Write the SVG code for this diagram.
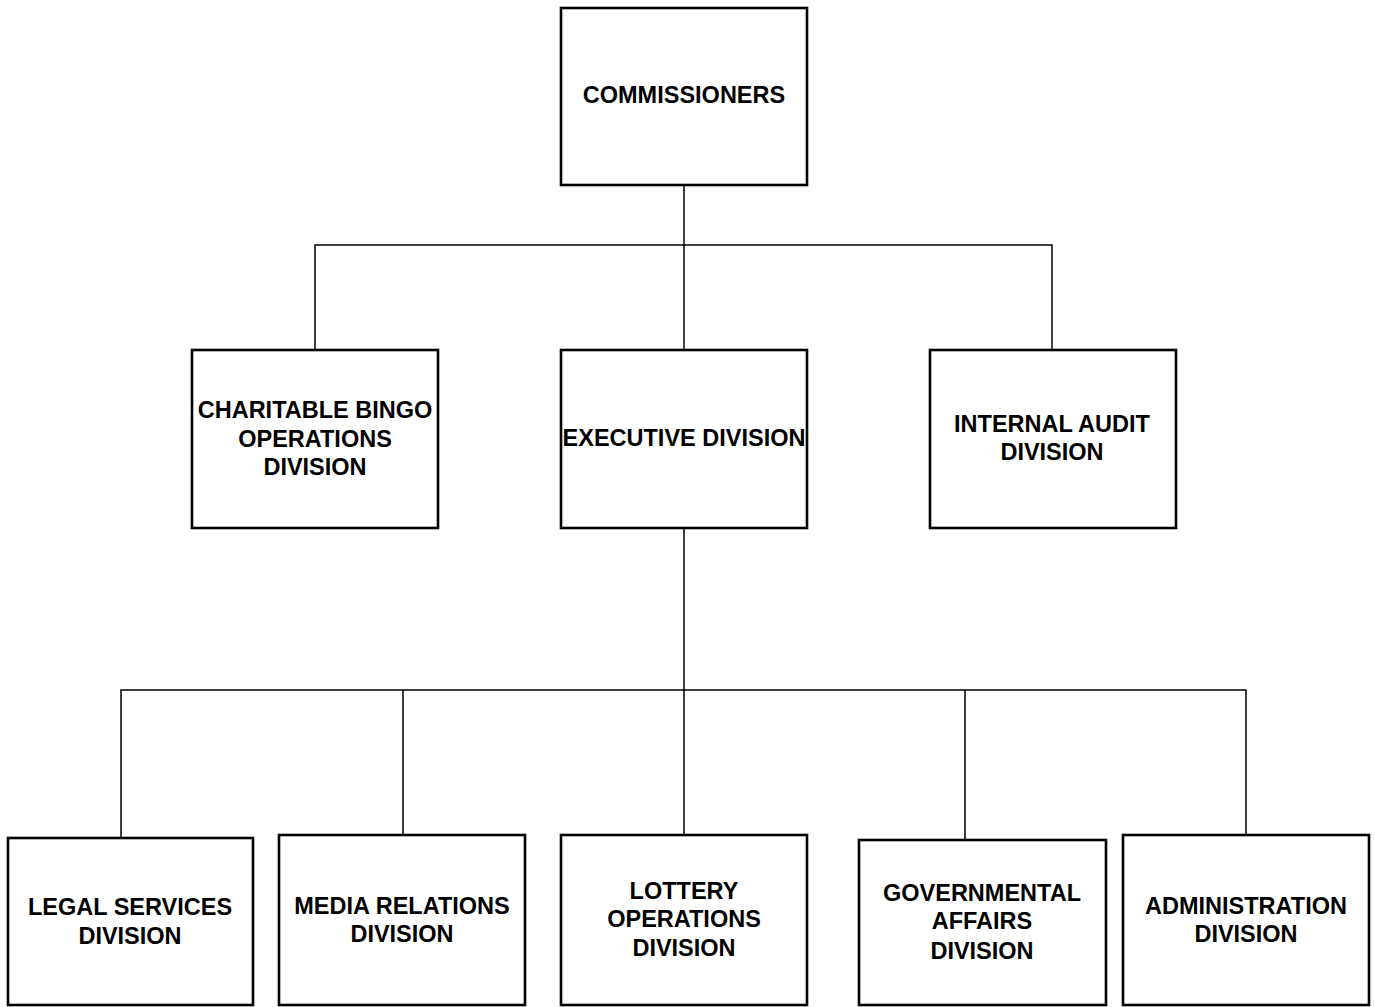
<svg xmlns="http://www.w3.org/2000/svg" width="1375" height="1007" viewBox="0 0 1375 1007">
<style>
.box{fill:#fff;stroke:#000;stroke-width:2.6}
.lbl{font-family:"Liberation Sans",Arial,sans-serif;font-weight:bold;font-size:23.5px;fill:#000;text-anchor:middle}
.con{fill:none;stroke:#000;stroke-width:1.5}
</style>
<rect width="1375" height="1007" fill="#fff"/>
<g id="connectors">
<path class="con" d="M684 185V350M315 350V245H1052V350"/>
<path class="con" d="M684 528V835M121 838V690H1246V835M403 835V690M965 840V690"/>
</g>
<g id="commissioners"><rect class="box" x="561" y="8" width="246" height="177"/><text class="lbl" x="684" y="103">COMMISSIONERS</text></g>
<g id="charitable"><rect class="box" x="192" y="350" width="246" height="178"/><text class="lbl" x="315" y="418">CHARITABLE BINGO</text><text class="lbl" x="315" y="446.5">OPERATIONS</text><text class="lbl" x="315" y="475">DIVISION</text></g>
<g id="executive"><rect class="box" x="561" y="350" width="246" height="178"/><text class="lbl" x="684" y="446">EXECUTIVE DIVISION</text></g>
<g id="internal-audit"><rect class="box" x="930" y="350" width="246" height="178"/><text class="lbl" x="1052" y="432">INTERNAL AUDIT</text><text class="lbl" x="1052" y="460">DIVISION</text></g>
<g id="legal"><rect class="box" x="8" y="838" width="245" height="167"/><text class="lbl" x="130" y="915">LEGAL SERVICES</text><text class="lbl" x="130" y="944">DIVISION</text></g>
<g id="media"><rect class="box" x="279" y="835" width="246" height="170"/><text class="lbl" x="402" y="914">MEDIA RELATIONS</text><text class="lbl" x="402" y="942">DIVISION</text></g>
<g id="lottery"><rect class="box" x="561" y="835" width="246" height="170"/><text class="lbl" x="684" y="899">LOTTERY</text><text class="lbl" x="684" y="927">OPERATIONS</text><text class="lbl" x="684" y="956">DIVISION</text></g>
<g id="governmental"><rect class="box" x="859" y="840" width="247" height="165"/><text class="lbl" x="982" y="901">GOVERNMENTAL</text><text class="lbl" x="982" y="929">AFFAIRS</text><text class="lbl" x="982" y="959">DIVISION</text></g>
<g id="administration"><rect class="box" x="1123" y="835" width="246" height="170"/><text class="lbl" x="1246" y="914">ADMINISTRATION</text><text class="lbl" x="1246" y="942">DIVISION</text></g>
</svg>
